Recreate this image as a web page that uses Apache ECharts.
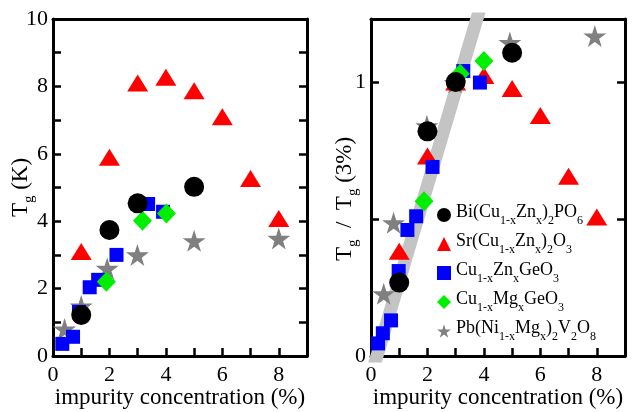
<!DOCTYPE html>
<html>
<head>
<meta charset="utf-8">
<script src="https://cdn.jsdelivr.net/npm/echarts@6/dist/echarts.min.js"></script>
<style>
  html, body { margin: 0; padding: 0; background: #fff; }
  #chart { width: 635px; height: 412px; }
</style>
</head>
<body>
<div id="chart"></div>
<script>
// left panel: Tg (K) vs impurity concentration (%)
const biTg = [[1, 1.22], [2, 3.74], [3, 4.53], [5, 5.02]]
const srTg = [[1, 3.1], [2, 5.9], [3, 8.1], [4, 8.27], [5, 7.87], [6, 7.1], [7, 5.27], [8, 4.08]]
const cuZnTg = [[0.33, 0.36], [0.71, 0.57], [0.92, 1.31], [1.3, 2.04], [1.6, 2.26], [2.25, 3.0], [3.37, 4.51], [3.9, 4.28]]
const cuMgTg = [[1.89, 2.2], [3.17, 4.01], [4.02, 4.23]]
const pbTg = [[0.41, 0.8], [1.0, 1.48], [1.92, 2.6], [2.99, 3.0], [5.0, 3.42], [8.0, 3.49]]

// right panel: Tg / Tg(3%)
const biRatio = [[1, 0.268], [2, 0.82], [3, 1.0], [5, 1.107]]
const srRatio = [[1, 0.382], [2, 0.73], [3, 1.0], [4, 1.024], [5, 0.976], [6, 0.878], [7, 0.656], [8, 0.507]]
const cuZnRatio = [[0.25, 0.046], [0.42, 0.083], [0.71, 0.13], [0.98, 0.31], [1.29, 0.46], [1.6, 0.51], [2.18, 0.69], [3.27, 1.04], [3.86, 0.998]]
const cuMgRatio = [[1.88, 0.565], [3.16, 1.03], [4.0, 1.077]]
const pbRatio = [[0.45, 0.227], [0.8, 0.486], [1.98, 0.84], [2.98, 0.998], [4.92, 1.144], [7.93, 1.168]]

// grey guide band in the right panel (end points)
const guideBand = [[0, -0.073], [4, 1.317]]

const names = ['Bi(Cu1-xZnx)2PO6', 'Sr(Cu1-xZnx)2O3', 'Cu1-xZnxGeO3', 'Cu1-xMgxGeO3', 'Pb(Ni1-xMgx)2V2O8']
const richNames = {
  'Bi(Cu1-xZnx)2PO6': '{m|Bi(Cu}{s|1-x}{m|Zn}{s|x}{m|)}{s|2}{m|PO}{s|6}',
  'Sr(Cu1-xZnx)2O3': '{m|Sr(Cu}{s|1-x}{m|Zn}{s|x}{m|)}{s|2}{m|O}{s|3}',
  'Cu1-xZnxGeO3': '{m|Cu}{s|1-x}{m|Zn}{s|x}{m|GeO}{s|3}',
  'Cu1-xMgxGeO3': '{m|Cu}{s|1-x}{m|Mg}{s|x}{m|GeO}{s|3}',
  'Pb(Ni1-xMgx)2V2O8': '{m|Pb(Ni}{s|1-x}{m|Mg}{s|x}{m|)}{s|2}{m|V}{s|2}{m|O}{s|8}'
}

const FONT = 'Liberation Serif'
const STAR = 'path://M50,0 L61,35 L98,35 L68,57 L79,91 L50,70 L21,91 L32,57 L2,35 L39,35 Z'
const styles = [
  { symbol: 'circle', size: 20, color: '#000000', z: 6 },
  { symbol: 'triangle', size: [21, 17], color: '#ff0000', z: 3 },
  { symbol: 'rect', size: 14, color: '#0000ff', z: 4 },
  { symbol: 'diamond', size: [19, 20], color: '#00ee00', z: 5 },
  { symbol: STAR, size: [23, 22], color: '#808080', z: 2 }
]
const legendIcons = ['circle', 'triangle', 'rect', 'diamond', STAR]

// onZero off, otherwise the right / top axes get pulled onto the zero line
const axisLine = { show: true, onZero: false, lineStyle: { color: '#000', width: 3 } }
const tick = { show: true, inside: true, length: 8, lineStyle: { color: '#000', width: 2.5 } }
const label = { color: '#000', fontFamily: FONT, fontSize: 22 }
const nameRich = {
  m: { fontFamily: FONT, fontSize: 23, color: '#000', verticalAlign: 'top', lineHeight: 28 },
  s: { fontFamily: FONT, fontSize: 15, color: '#000', verticalAlign: 'bottom', lineHeight: 28 }
}

function xAxes(gridIndex) {
  return [
    {
      gridIndex, type: 'value', min: 0, max: 9, interval: 1, position: 'bottom',
      axisLine, axisTick: tick, splitLine: { show: false },
      axisLabel: { ...label, margin: 8, formatter: v => (v % 2 === 0 ? v : '') },
      name: 'impurity concentration (%)', nameLocation: 'middle', nameGap: 30,
      nameMoveOverlap: false,
      nameTextStyle: { fontFamily: FONT, fontSize: 23, color: '#000' }
    },
    {
      gridIndex, type: 'value', min: 0, max: 9, position: 'top',
      axisLine, axisTick: { show: false }, axisLabel: { show: false }, splitLine: { show: false }
    }
  ]
}

function yAxes(gridIndex, max, interval, fmt, name, gap) {
  return [
    {
      gridIndex, type: 'value', min: 0, max, interval, position: 'left',
      axisLine, axisTick: tick, splitLine: { show: false },
      axisLabel: { ...label, margin: 5, formatter: fmt },
      name, nameLocation: 'middle', nameGap: gap, nameMoveOverlap: false,
      nameTextStyle: { rich: nameRich }
    },
    {
      gridIndex, type: 'value', min: 0, max, interval, position: 'right',
      axisLine, axisTick: tick, axisLabel: { show: false }, splitLine: { show: false }
    }
  ]
}

function scatter(data, i, xAxisIndex, yAxisIndex) {
  const s = styles[i]
  return {
    name: names[i], type: 'scatter', data, xAxisIndex, yAxisIndex,
    symbol: s.symbol, symbolSize: s.size, z: s.z,
    itemStyle: { color: s.color, opacity: 1 }
  }
}

const leftSets = [biTg, srTg, cuZnTg, cuMgTg, pbTg]
const rightSets = [biRatio, srRatio, cuZnRatio, cuMgRatio, pbRatio]

const chart = echarts.init(document.getElementById('chart'))
chart.setOption({
  animation: false,
  backgroundColor: '#fff',
  grid: [
    { left: 53, top: 19, width: 254, height: 337, outerBoundsMode: 'none' },
    { left: 371, top: 19, width: 254, height: 337, outerBoundsMode: 'none' }
  ],
  xAxis: [...xAxes(0), ...xAxes(1)],
  yAxis: [
    ...yAxes(0, 10, 1, v => (v % 2 === 0 ? v : ''), '{m|T}{s|g}{m| (K)}', 16),
    ...yAxes(1, 1.23, 0.5, v => (v === 0 || v === 1 ? v : ''),
      '{m|T}{s|g}{m|  /  T}{s|g}{m| (3%)    }', 10)
  ],
  legend: {
    orient: 'vertical', left: 432, top: 198, itemGap: 5,
    itemWidth: 14, itemHeight: 14, selectedMode: false,
    data: names.map((n, i) => ({ name: n, icon: legendIcons[i], itemStyle: { color: styles[i].color } })),
    formatter: n => richNames[n],
    textStyle: {
      rich: {
        m: { fontFamily: FONT, fontSize: 18, color: '#000', verticalAlign: 'top', lineHeight: 24 },
        s: { fontFamily: FONT, fontSize: 12, color: '#000', verticalAlign: 'bottom', lineHeight: 24 }
      }
    }
  },
  series: [
    ...leftSets.map((d, i) => scatter(d, i, 0, 0)),
    {
      type: 'line', data: guideBand, xAxisIndex: 2, yAxisIndex: 2,
      symbol: 'none', silent: true, z: 1, clip: true,
      lineStyle: { color: '#c4c4c4', width: 13 }
    },
    ...rightSets.map((d, i) => scatter(d, i, 2, 2))
  ]
})
</script>
</body>
</html>
